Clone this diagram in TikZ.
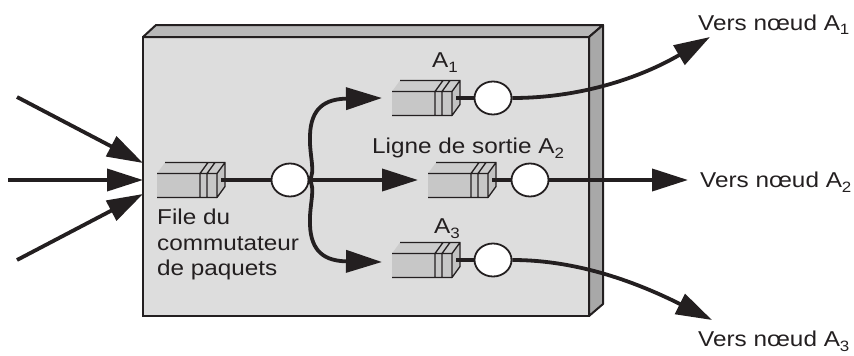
\documentclass[tikz,border=0pt]{standalone}
\usepackage{fontspec}
\setmainfont{Liberation Sans}[FakeStretch=1.13]
\usetikzlibrary{arrows.meta,shapes.geometric}
\definecolor{ink}{HTML}{231F20}
\definecolor{boxfront}{gray}{0.865}
\definecolor{boxtop}{gray}{0.72}
\definecolor{boxside}{gray}{0.66}
\definecolor{qfront}{gray}{0.78}
\definecolor{qtop}{gray}{0.80}
\definecolor{qside}{gray}{0.76}
\newcommand{\myidx}[1]{\raisebox{-5pt}{\fontsize{15}{15}\selectfont #1}}
\tikzset{
  lbl/.style={anchor=base west,inner sep=0pt,text=ink,font=\fontsize{21.5}{25}\selectfont},
  srv/.style={shape=ellipse,draw=ink,line width=1.8pt,fill=white,minimum width=37pt,minimum height=33pt,inner sep=0pt},
  link/.style={draw=ink,line width=3.6pt},
  flow/.style={draw=ink,line width=3.8pt,-{Triangle[length=36pt,width=22pt]}},
  queue/.pic={
    \fill[qfront] (0,-24) rectangle (60,0);
    \fill[qtop] (0,-24) -- (8,-35) -- (68,-35) -- (60,-24) -- cycle;
    \filldraw[fill=qside,draw=ink,line width=1.3pt,line join=round] (60,0) -- (60,-24) -- (68,-35) -- (68,-11) -- cycle;
    \draw[ink,line width=1.3pt] (0,0) -- (60,0) (0,-24) -- (60,-24) (8,-35) -- (68,-35)
      (43,0) -- (43,-24) -- (51,-35) (50,0) -- (50,-24) -- (58,-35);
    \coordinate (-out) at (64,-17.5);
  }
}
\begin{document}
\begin{tikzpicture}[x=1pt,y=-1pt]
\useasboundingbox (0,0) rectangle (854,356);
% switch box
\filldraw[fill=boxfront,draw=ink,line width=2pt] (143,37) rectangle (589,316);
\filldraw[fill=boxtop,draw=ink,line width=2pt,line join=round] (143,37) -- (156,25) -- (603,25) -- (589,37) -- cycle;
\filldraw[fill=boxside,draw=ink,line width=2pt,line join=round] (589,37) -- (603,25) -- (603,304) -- (589,316) -- cycle;
% queues
\pic (q0) at (157,197.5) {queue};
\pic (q1) at (392,115.5) {queue};
\pic (q2) at (428,197.5) {queue};
\pic (q3) at (392,277.5) {queue};
% servers
\node[srv] (c0) at (290,180) {};
\node[srv] (c1) at (493,98) {};
\node[srv] (c2) at (530,180) {};
\node[srv] (c3) at (493,260) {};
\draw[link] (q0-out) -- (c0.west);
\draw[link] (q1-out) -- (c1.west);
\draw[link] (q2-out) -- (c2.west);
\draw[link] (q3-out) -- (c3.west);
% free ends
\coordinate (i1) at (17,97);
\coordinate (i2) at (8,180);
\coordinate (i3) at (17,260);
\coordinate (e1) at (143,163);
\coordinate (e2) at (143,180);
\coordinate (e3) at (143,194);
\coordinate (t1) at (382,98);
\coordinate (t2) at (418,180);
\coordinate (t3) at (382,262);
\coordinate (o1) at (710,37);
\coordinate (o2) at (688,180);
\coordinate (o3) at (712,320);
% input arrows
\draw[flow] (i1) -- (e1);
\draw[flow] (i2) -- (e2);
\draw[flow] (i3) -- (e3);
% internal switching
\draw[flow] (c0.east) -- (t2);
\draw[flow] (c0.east) .. controls (316,172) and (309,155) .. (310,135) .. controls (311,108) and (325,99) .. (t1);
\draw[flow] (c0.east) .. controls (316,188) and (309,205) .. (310,225) .. controls (311,252) and (325,261) .. (t3);
% outputs
\draw[flow] (c1.east) .. controls (580,98) and (640,78) .. (o1);
\draw[flow] (c2.east) -- (o2);
\draw[flow] (c3.east) .. controls (580,260) and (640,284) .. (o3);
% labels
\node[lbl] (l1) at (432,67) {A\myidx{1}};
\node[lbl] (l2) at (372,153) {Ligne de sortie A\myidx{2}};
\node[lbl] (l3) at (434,233) {A\myidx{3}};
\node[lbl] (f1) at (157,224) {File du};
\node[lbl] (f2) at (157,250) {commutateur};
\node[lbl] (f3) at (157,275) {de paquets};
\node[lbl] (v1) at (698,30) {Vers nœud A\myidx{1}};
\node[lbl] (v2) at (700,187) {Vers nœud A\myidx{2}};
\node[lbl] (v3) at (698,346) {Vers nœud A\myidx{3}};
\end{tikzpicture}
\end{document}
